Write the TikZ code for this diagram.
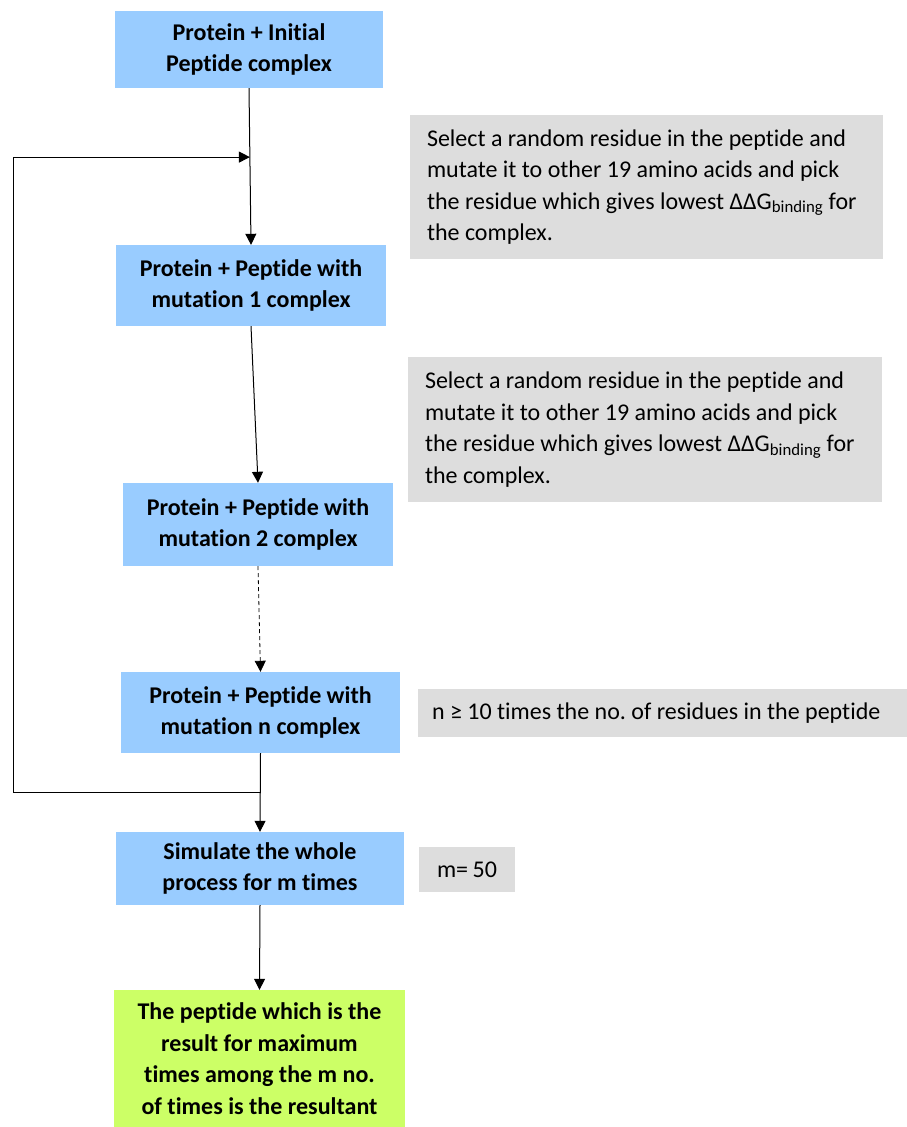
\documentclass[tikz,border=0pt]{standalone}
\usepackage{fontspec}
\setmainfont{Carlito}[Ligatures=NoCommon]
\usepackage{xcolor}
\usetikzlibrary{arrows.meta,calc}
\definecolor{procblue}{HTML}{99CCFF}
\definecolor{notegray}{HTML}{DDDDDD}
\definecolor{resgreen}{HTML}{CCFF66}
\frenchspacing
\tikzset{
  procbox/.style={fill=procblue, align=center, inner sep=0pt,
                  font=\fontsize{24}{31.5}\selectfont\bfseries},
  notebox/.style={fill=notegray, align=flush left, inner xsep=17pt, inner ysep=0pt,
                  font=\fontsize{24}{31.5}\selectfont},
  flow/.style={-{Triangle[width=11pt,length=11pt]}, line width=1pt}
}
\begin{document}
\begin{tikzpicture}[x=1pt,y=-1pt]
  \useasboundingbox (0,0) rectangle (907,1127);
  \node (b1) [procbox, minimum width=268pt, minimum height=77pt] at (249,49.5)
        {Protein + Initial\\Peptide complex};
  \node (b2) [procbox, minimum width=270pt, minimum height=81pt] at (251,285.5)
        {Protein + Peptide with\\mutation 1 complex};
  \node (b3) [procbox, minimum width=270pt, minimum height=83pt] at (258,524.5)
        {Protein + Peptide with\\mutation 2 complex};
  \node (b4) [procbox, minimum width=279pt, minimum height=81pt] at (260.5,712.5)
        {Protein + Peptide with\\mutation n complex};
  \node (b5) [procbox, minimum width=288pt, minimum height=73pt] at (260,868.5)
        {Simulate the whole\\process for m times};
  \node (res) [procbox, fill=resgreen, minimum width=291pt, minimum height=137pt] at (259.5,1058.5)
        {The peptide which is the\\result for maximum\\times among the m no.\\of times is the resultant};

  \node (n1) [notebox, text width=439pt, minimum height=144pt] at (646.5,187)
        {Select a random residue in the peptide and\\mutate it to other 19 amino acids and pick\\the residue which gives lowest ΔΔG\textsubscript{binding} for\\the complex.};
  \node (n2) [notebox, text width=440pt, minimum height=145pt] at (645,429.5)
        {Select a random residue in the peptide and\\mutate it to other 19 amino acids and pick\\the residue which gives lowest ΔΔG\textsubscript{binding} for\\the complex.};
  \node (n3) [notebox, inner xsep=14pt, text width=461pt, minimum height=48pt] at (662.5,713)
        {n ≥ 10 times the no. of residues in the peptide};
  \node (n4) [notebox, inner xsep=18pt, text width=60pt, minimum height=45pt] at (467,869.5)
        {m=~50};

  \coordinate (jin) at ($(b1.south)!0.44!(b2.north)$);
  \coordinate (jout) at ($(b4.south)!0.5!(b5.north)$);
  \coordinate (loopx) at (13,0);

  \path[flow] (b1.south) edge (b2.north)
              (b2.south) edge (b3.north)
              (b3.south) edge[dash pattern=on 4pt off 3pt, line width=0.8pt] (b4.north)
              (b4.south) edge (b5.north)
              (b5.south) edge (res.north);
  \draw[flow] (jout) -- (jout -| loopx) -- (jin -| loopx) -- (jin);
\end{tikzpicture}
\end{document}
